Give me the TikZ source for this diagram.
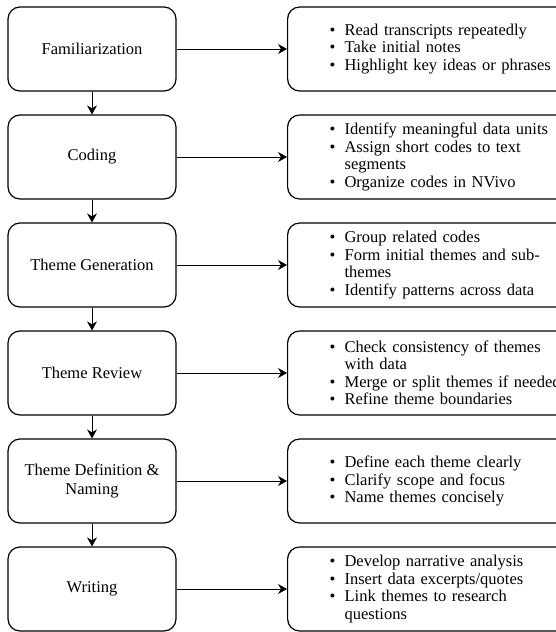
\documentclass[tikz,border=0pt]{standalone}
\usepackage{fontspec}
\setmainfont{Liberation Serif}
\usetikzlibrary{arrows.meta}

\tikzset{
  stage/.style={draw, rounded corners=12pt, line width=1.2pt, minimum width=168pt,
    minimum height=84pt, align=center, font=\fontsize{16.5}{19}\selectfont},
  notes/.style={draw, rounded corners=12pt, line width=1.2pt, minimum height=84pt,
    text width=240pt, inner xsep=42pt, align=left, font=\fontsize{16.5}{17.5}\selectfont},
  flow/.style={-{Stealth[length=9pt,width=10pt]}, line width=1pt}
}
\newcommand{\bul}[1]{\makebox[15pt][l]{\textbullet}#1}
\newcommand{\cont}[1]{\hspace*{15pt}#1}

\begin{document}
\begin{tikzpicture}[x=1pt,y=-1pt]
    \useasboundingbox (0,0) rectangle (556,632);

    \node[stage] (s1) at (92, 49) {Familiarization};
    \node[stage] (s2) at (92, 157) {Coding};
    \node[stage] (s3) at (92, 265) {Theme Generation};
    \node[stage] (s4) at (92, 373) {Theme Review};
    \node[stage] (s5) at (92, 481) {\raisebox{8pt}{\begin{tabular}{@{}c@{}}Theme Definition \&\\ Naming\end{tabular}}};
    \node[stage] (s6) at (92, 589) {Writing};

    \node[notes, anchor=west] (n1) at (287, 49) {\bul{Read transcripts repeatedly}\\ \bul{Take initial notes}\\ \bul{Highlight key ideas or phrases}};
    \node[notes, anchor=west] (n2) at (287, 157) {\bul{Identify meaningful data units}\\ \bul{Assign short codes to text}\\ \cont{segments}\\ \bul{Organize codes in NVivo}};
    \node[notes, anchor=west] (n3) at (287, 265) {\bul{Group related codes}\\ \bul{Form initial themes and sub-}\\ \cont{themes}\\ \bul{Identify patterns across data}};
    \node[notes, anchor=west] (n4) at (287, 373) {\bul{Check consistency of themes}\\ \cont{with data}\\ \bul{Merge or split themes if needed}\\ \bul{Refine theme boundaries}};
    \node[notes, anchor=west] (n5) at (287, 481) {\bul{Define each theme clearly}\\ \bul{Clarify scope and focus}\\ \bul{Name themes concisely}};
    \node[notes, anchor=west] (n6) at (287, 589) {\bul{Develop narrative analysis}\\ \bul{Insert data excerpts/quotes}\\ \bul{Link themes to research}\\ \cont{questions}};

    \draw[flow] (s1) -- (s2);
    \draw[flow] (s2) -- (s3);
    \draw[flow] (s3) -- (s4);
    \draw[flow] (s4) -- (s5);
    \draw[flow] (s5) -- (s6);

    \draw[flow] (s1) -- (n1);
    \draw[flow] (s2) -- (n2);
    \draw[flow] (s3) -- (n3);
    \draw[flow] (s4) -- (n4);
    \draw[flow] (s5) -- (n5);
    \draw[flow] (s6) -- (n6);
\end{tikzpicture}
\end{document}
